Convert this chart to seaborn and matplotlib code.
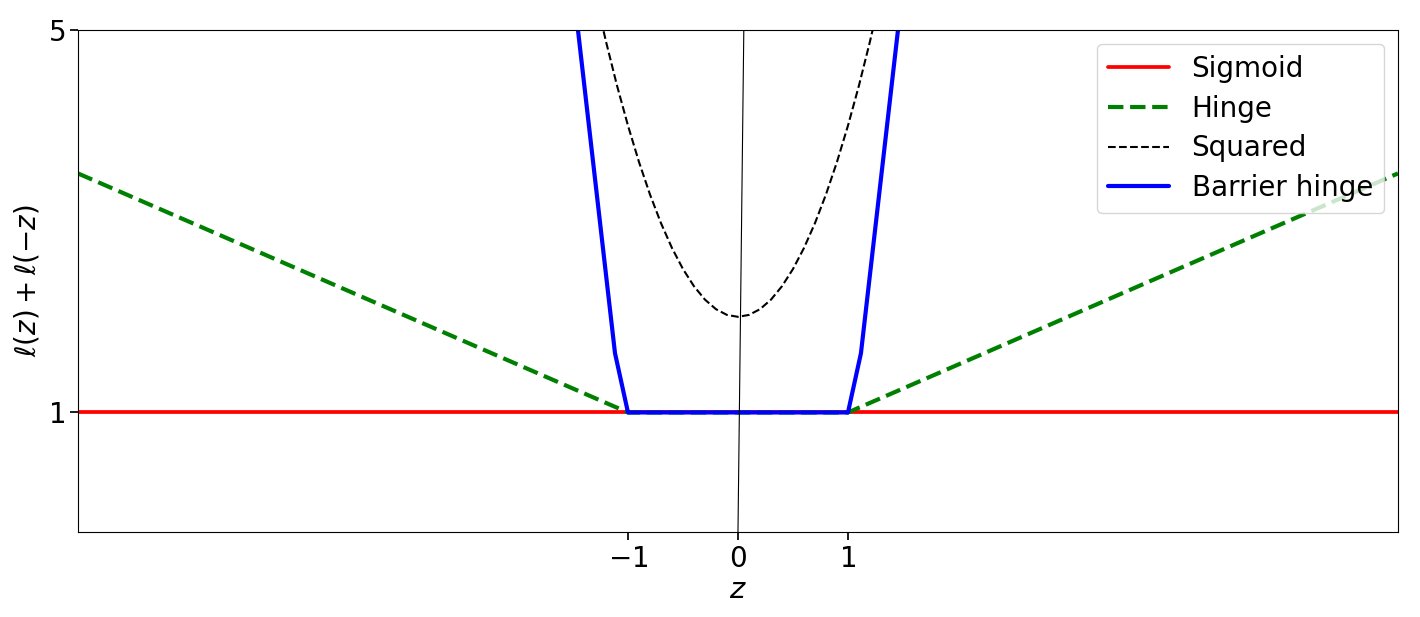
import matplotlib
matplotlib.use('Agg')
import matplotlib.pyplot as plt
import seaborn as sns

# --- data ---
sigmoid_z = [-6.0, 6.0]
sigmoid_y = [1.0, 1.0]

hinge_z = [-6.0, -1.0, 1.0, 6.0]
hinge_y = [3.5, 1.0, 1.0, 3.5]

squared_z = [-1.3, -1.2, -1.1, -1.0, -0.9, -0.8, -0.7, -0.6, -0.5, -0.4, -0.3, -0.2, -0.1, 0.0,
             0.1, 0.2, 0.3, 0.4, 0.5, 0.6, 0.7, 0.8, 0.9, 1.0, 1.1, 1.2, 1.3]
squared_y = [5.38, 4.88, 4.42, 4.0, 3.62, 3.28, 2.98, 2.72, 2.5, 2.32, 2.18, 2.08, 2.02, 2.0,
             2.02, 2.08, 2.18, 2.32, 2.5, 2.72, 2.98, 3.28, 3.62, 4.0, 4.42, 4.88, 5.38]

barrier_z = [-1.6, -1.118, -1.0, 1.0, 1.118, 1.6]
barrier_y = [6.46, 1.62, 1.0, 1.0, 1.62, 6.46]

axis_z = [0.0, 0.053]
axis_y = [-0.25, 5.0]

x_ticks = [-1, 0, 1]
y_ticks = [1, 5]

sns.set_theme(style="ticks", rc={
    "axes.edgecolor": "black", "xtick.color": "black", "ytick.color": "black",
    "text.color": "black", "axes.labelcolor": "black", "axes.linewidth": 0.8,
})
plt.rcParams['font.family'] = ['DejaVu Sans']
plt.rcParams['mathtext.fontset'] = 'dejavusans'

fig, ax = plt.subplots(figsize=(14.2, 6.17), dpi=100)
fig.subplots_adjust(left=0.0549, right=0.9845, top=0.9514, bottom=0.1378)

sns.lineplot(x=sigmoid_z, y=sigmoid_y, ax=ax, color='red', lw=2.7, label='Sigmoid')
sns.lineplot(x=hinge_z, y=hinge_y, ax=ax, color='green', lw=3, linestyle='--', label='Hinge')
sns.lineplot(x=squared_z, y=squared_y, ax=ax, color='black', lw=1.5, linestyle='--', label='Squared')
sns.lineplot(x=barrier_z, y=barrier_y, ax=ax, color='blue', lw=3, label='Barrier hinge')
ax.plot(axis_z, axis_y, color='black', lw=0.8)

ax.set_xlim(-6, 6)
ax.set_ylim(-0.25, 5)
ax.set_xticks(x_ticks)
ax.set_xticklabels([r'$\mathdefault{%d}$' % t for t in x_ticks])
ax.set_yticks(y_ticks)
ax.set_yticklabels([r'$\mathdefault{%d}$' % t for t in y_ticks])
ax.tick_params(labelsize=20)
ax.set_xlabel('$z$', fontsize=21, labelpad=2)
ax.set_ylabel(r'$\ell(z) + \ell(-z)$', fontsize=20)
ax.legend(loc='upper right', fontsize=20, handlelength=2.2, labelspacing=0.42)

fig.savefig('out.png', dpi=100)
